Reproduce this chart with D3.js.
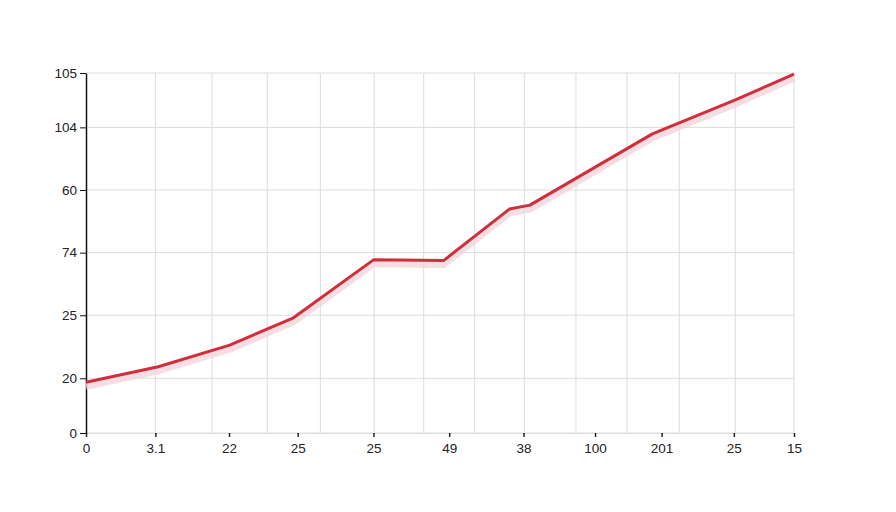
<!DOCTYPE html>
<head>
  <meta charset="utf-8">
  <script src="https://d3js.org/d3.v7.min.js"></script>
  <style>
    body { margin:0; background:#fff; }
    text { font-family: "Liberation Sans", Arial, sans-serif; }
  </style>
</head>
<body>
  <script>
    // y ticks (positions on a 0-100 internal scale) and the labels shown
    var yTickVals   = [0, 15.2, 32.7, 50.1, 67.5, 84.9, 100];
    var yTickLabels = ["0", "20", "25", "74", "60", "104", "105"];

    // x ticks (positions on a 0-100 internal scale) and their labels
    var xTickVals   = [0, 9.8, 20.2, 29.9, 40.6, 51.3, 61.8, 71.9, 81.3, 91.5, 100];
    var xTickLabels = ["0", "3.1", "22", "25", "25", "49", "38", "100", "201", "25", "15"];

    // vertical grid lines
    var xGrid = [9.8, 17.8, 25.6, 33.1, 40.7, 47.7, 54.9, 61.9, 69.2, 76.4, 83.8, 91.7, 100];

    // the line
    var lineX = [0, 10.2, 20.3, 29.3, 40.6, 50.5, 59.8, 62.7, 80.0, 91.8, 100];
    var lineY = [14.1, 18.4, 24.4, 32.0, 48.1, 47.9, 62.2, 63.3, 83.1, 92.6, 99.7];

    var width = 896, height = 512;
    var margin = {top: 73, right: 102, bottom: 79, left: 86};
    var w = width - margin.left - margin.right,
        h = height - margin.top - margin.bottom;

    var svg = d3.select("body").append("svg")
      .attr("width", width)
      .attr("height", height);

    var g = svg.append("g")
      .attr("transform", "translate(" + margin.left + "," + margin.top + ")");

    var x = d3.scaleLinear().domain([0, 100]).range([0, w]);
    var y = d3.scaleLinear().domain([0, 100]).range([h, 0]);

    // grid
    g.selectAll(".hgrid").data(yTickVals).enter().append("line")
      .attr("x1", 0).attr("x2", w)
      .attr("y1", d => y(d)).attr("y2", d => y(d))
      .attr("stroke", "#dcdcdc").attr("stroke-width", 1);

    g.selectAll(".vgrid").data(xGrid).enter().append("line")
      .attr("x1", d => x(d)).attr("x2", d => x(d))
      .attr("y1", 0).attr("y2", h)
      .attr("stroke", "#dcdcdc").attr("stroke-width", 1);

    // axes
    var xAxis = g.append("g")
      .attr("transform", "translate(0," + h + ")")
      .call(d3.axisBottom(x).tickValues(xTickVals)
        .tickFormat((d, i) => xTickLabels[i]).tickSize(4).tickPadding(6));
    xAxis.select(".domain").attr("stroke", "#dcdcdc");
    xAxis.selectAll(".tick line").attr("stroke", "#222").attr("stroke-width", 1.5);
    xAxis.selectAll("text").attr("font-size", 13.5).attr("fill", "#222");

    var yAxis = g.append("g")
      .call(d3.axisLeft(y).tickValues(yTickVals)
        .tickFormat((d, i) => yTickLabels[i]).tickSize(6).tickSizeOuter(0).tickPadding(3));
    yAxis.select(".domain").attr("stroke", "#111").attr("stroke-width", 1.5);
    yAxis.selectAll(".tick line").attr("stroke", "#111");
    yAxis.selectAll("text").attr("font-size", 13.5).attr("fill", "#222");

    var pts = lineX.map((d, i) => [d, lineY[i]]);
    var line = d3.line().x(d => x(d[0])).y(d => y(d[1]));

    // soft shadow under the line
    g.append("path")
      .datum(pts)
      .attr("d", line)
      .attr("transform", "translate(0,4)")
      .attr("fill", "none")
      .attr("stroke", "#f3d6d9")
      .attr("stroke-width", 7)
      .attr("stroke-linejoin", "round")
      .attr("opacity", 0.8);

    g.append("path")
      .datum(pts)
      .attr("d", line)
      .attr("fill", "none")
      .attr("stroke", "#d02e3d")
      .attr("stroke-width", 3)
      .attr("stroke-linejoin", "round");
  </script>
</body>
